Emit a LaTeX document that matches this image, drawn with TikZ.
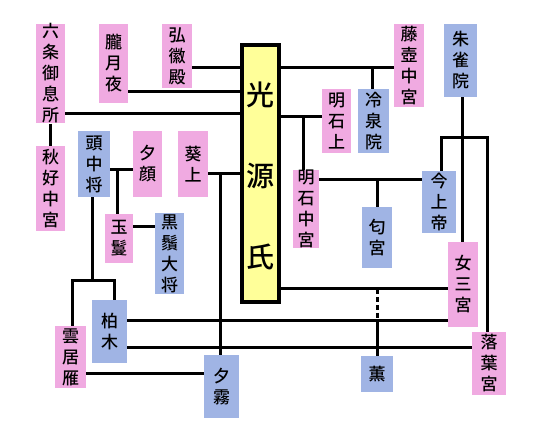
\documentclass[tikz,border=0pt]{standalone}
\usepackage{fontspec}
\setmainfont{Noto Sans CJK JP}[BoldFont={Noto Sans CJK JP Medium}]
\definecolor{pinkc}{RGB}{240,170,225}
\definecolor{bluec}{RGB}{160,180,228}
\definecolor{yellowc}{RGB}{255,255,153}
\begin{document}
\begin{tikzpicture}[x=1pt,y=-1pt,
 box/.style={inner sep=0pt, align=center, font=\fontsize{17}{21}\selectfont\bfseries},
 pinkbox/.style={box, fill=pinkc},
 bluebox/.style={box, fill=bluec},
 genjibox/.style={draw=black, line width=4pt, fill=yellowc, inner sep=0pt},
 link/.style={line width=3pt, line join=miter},
 dashlink/.style={line width=3pt, dash pattern=on 5pt off 3pt},
]
\useasboundingbox[fill=white] (0,0) rectangle (549,427);
% boxes
\node[pinkbox, minimum width=29pt, minimum height=99pt] (rokujo) at (50.5,73.5) {六\\条\\御\\息\\所};
\node[pinkbox, minimum width=29pt, minimum height=79pt] (oboro) at (113.5,63.5) {朧\\月\\夜};
\node[pinkbox, minimum width=30pt, minimum height=64pt] (kokiden) at (177,56) {弘\\徽\\殿};
\node[pinkbox, minimum width=30pt, minimum height=83pt] (fujitsubo) at (409,65.5) {藤\\壺\\中\\宮};
\node[bluebox, minimum width=33pt, minimum height=73pt] (suzaku) at (460.5,60.5) {朱\\雀\\院};
\node[genjibox, minimum width=37pt, minimum height=257pt] (genji) at (260.5,173.5) {};
\node[inner sep=0pt, align=center, font=\fontsize{28}{81}\selectfont\bfseries] (genjitext) at (260.5,176) {光\\源\\氏};
\node[pinkbox, minimum width=29pt, minimum height=64pt] (akashi) at (336.5,121) {明\\石\\上};
\node[bluebox, minimum width=31pt, minimum height=64pt] (reizei) at (373.5,121) {冷\\泉\\院};
\node[pinkbox, minimum width=29pt, minimum height=85pt] (akikonomu) at (50.5,188.5) {秋\\好\\中\\宮};
\node[bluebox, minimum width=32pt, minimum height=66pt] (tochu) at (94,164) {頭\\中\\将};
\node[pinkbox, minimum width=29pt, minimum height=66pt] (yugao) at (147.5,164) {夕\\顔};
\node[pinkbox, minimum width=30pt, minimum height=66pt] (aoi) at (193,164) {葵\\上};
\node[pinkbox, minimum width=26pt, minimum height=76pt] (akashichugu) at (306,209) {明\\石\\中\\宮};
\node[bluebox, minimum width=34pt, minimum height=62pt] (kinjo) at (439,202) {今\\上\\帝};
\node[bluebox, minimum width=30pt, minimum height=61pt] (niou) at (377,237.5) {匂\\宮};
\node[pinkbox, minimum width=28pt, minimum height=49pt] (tamakazura) at (119,238.5) {玉\\鬘};
\node[bluebox, minimum width=29pt, minimum height=81pt] (higekuro) at (169.5,253.5) {黒\\鬚\\大\\将};
\node[pinkbox, minimum width=30pt, minimum height=85pt] (sannomiya) at (463,284.5) {女\\三\\宮};
\node[bluebox, minimum width=35pt, minimum height=63pt] (kashiwagi) at (109.5,331.5) {柏\\木};
\node[pinkbox, minimum width=31pt, minimum height=62pt] (kumoi) at (70.5,357) {雲\\居\\雁};
\node[pinkbox, minimum width=34pt, minimum height=63pt] (ochiba) at (489,363.5) {落\\葉\\宮};
\node[bluebox, minimum width=35pt, minimum height=63pt] (yugiri) at (221.5,386.5) {夕\\霧};
\node[bluebox, minimum width=32pt, minimum height=36pt] (kaoru) at (377,374) {薫};
% connectors
\draw[link] (kokiden.east |- 0,68) -- (genji.west |- 0,68);
\draw[link] (oboro.east |- 0,92) -- (genji.west |- 0,92);
\draw[link] (rokujo.east |- 0,114) -- (genji.west |- 0,114);
\draw[link] (rokujo.south) -- (akikonomu.north);
\draw[link] (genji.east |- 0,68) -- (fujitsubo.west |- 0,68);
\draw[link] (372,68) -- (reizei.north -| 372,0);
\draw[link] (genji.east |- 0,117) -- (akashi.west |- 0,117);
\draw[link] (303,117) -- (akashichugu.north -| 303,0);
\draw[link] (akashichugu.east |- 0,180) -- (kinjo.west |- 0,180);
\draw[link] (377,180) -- (niou.north);
\draw[link] (suzaku.south -| 462,0) -- (sannomiya.north -| 462,0);
\draw[link] (kinjo.north -| 441,0) -- (441,138) -- (487,138) -- (ochiba.north -| 487,0);
\draw[link] (genji.east |- 0,289) -- (sannomiya.west |- 0,289);
\draw[dashlink] (377,289) -- (377,321);
\draw[link] (377,321) -- (kaoru.north);
\draw[link] (kashiwagi.east |- 0,321) -- (sannomiya.west |- 0,321);
\draw[link] (kashiwagi.east |- 0,348) -- (ochiba.west |- 0,348);
\draw[link] (tochu.east |- 0,170) -- (yugao.west |- 0,170);
\draw[link] (117,170) -- (tamakazura.north -| 117,0);
\draw[link] (tamakazura.east |- 0,227) -- (higekuro.west |- 0,227);
\draw[link] (aoi.east |- 0,174) -- (genji.west |- 0,174);
\draw[link] (220,174) -- (yugiri.north -| 220,0);
\draw[link] (tochu.south -| 92,0) -- (92,281);
\draw[link] (kumoi.north -| 72,0) -- (72,281) -- (114,281) -- (kashiwagi.north -| 114,0);
\draw[link] (kumoi.east |- 0,374) -- (yugiri.west |- 0,374);
\end{tikzpicture}
\end{document}
